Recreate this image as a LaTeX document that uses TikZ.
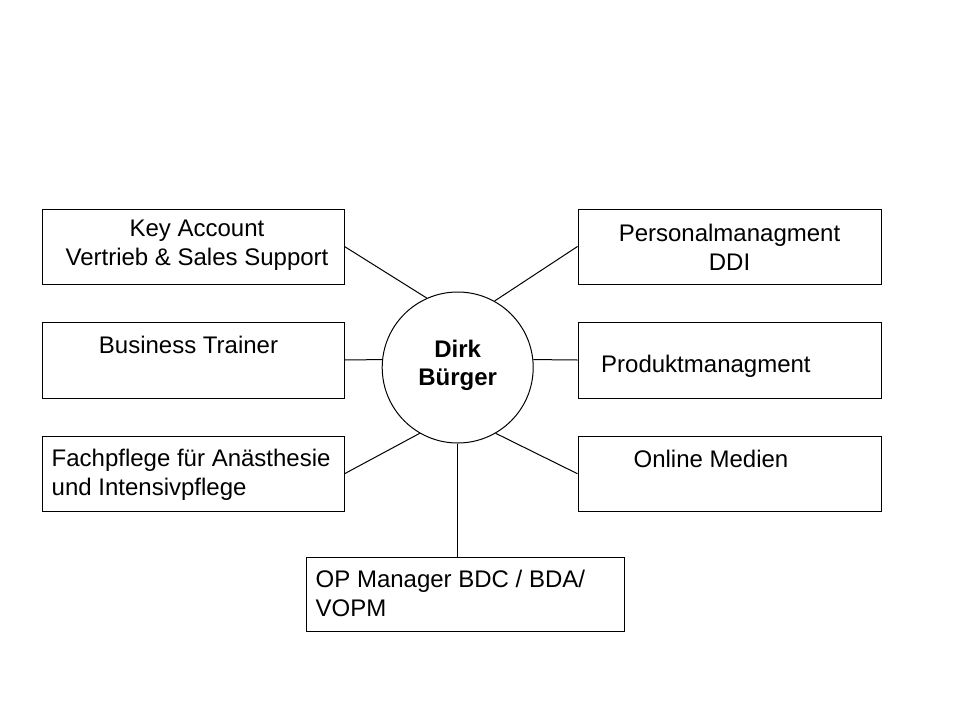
\documentclass[tikz,border=0pt]{standalone}
\usepackage{fontspec}
\setmainfont{Liberation Sans}
\begin{document}
\begin{tikzpicture}[x=1pt,y=-1pt,
  box/.style={draw=black,line width=1pt,rectangle,inner sep=0pt},
  lbl/.style={inner sep=0pt,font=\fontsize{24}{29}\selectfont,text=black},
  conn/.style={draw=black,line width=1pt}]
\useasboundingbox (0,0) rectangle (960,720);
\fill[white] (0,0) rectangle (960,720);
% boxes
\node[box,minimum width=301.5pt,minimum height=75pt] (ka) at (193.25,246.5) {};
\node[box,minimum width=303.5pt,minimum height=75pt] (pm) at (729.75,246.5) {};
\node[box,minimum width=301.5pt,minimum height=76pt] (bt) at (193.25,360) {};
\node[box,minimum width=303.5pt,minimum height=76pt] (pd) at (729.75,360) {};
\node[box,minimum width=301.5pt,minimum height=74.5pt] (fp) at (193.25,473.75) {};
\node[box,minimum width=303.5pt,minimum height=74.5pt] (om) at (729.75,473.75) {};
\node[box,minimum width=318pt,minimum height=74pt] (op) at (465.5,594.5) {};
\node[draw=black,line width=1pt,circle,minimum size=151pt,inner sep=0pt] (c) at (457.7,367.5) {};
% texts (base anchor = baseline of last line)
\node[lbl,anchor=base,align=center] (tka) at (197,265.5) {Key Account\\Vertrieb \& Sales Support};
\node[lbl,anchor=base,align=center] (tpm) at (729.5,270) {Personalmanagment\\DDI};
\node[lbl,anchor=base] (tbt) at (188.5,353) {Business Trainer};
\node[lbl,anchor=base west] (tpd) at (601,372) {Produktmanagment};
\node[lbl,anchor=base west,align=left] (tfp) at (51.5,495.5) {Fachpflege für Anästhesie\\und Intensivpflege};
\node[lbl,anchor=base] (tom) at (711,467) {Online Medien};
\node[lbl,anchor=base west,align=left] (top) at (315.5,616) {OP Manager BDC / BDA/\\VOPM};
\node[lbl,anchor=base,align=center,font=\fontsize{24}{28}\selectfont\bfseries] (tc) at (457.7,385) {Dirk\\Bürger};
% connectors
\draw[conn] (ka.east) -- (c.114);
\draw[conn] (pm.west) -- (c.61);
\draw[conn] (bt.east) -- (c.174);
\draw[conn] (pd.west) -- (c.6);
\draw[conn] (fp.east) -- (c.240);
\draw[conn] (om.west) -- (c.300);
\draw[conn] (c.south) -- (c.south |- op.north);
\end{tikzpicture}
\end{document}
